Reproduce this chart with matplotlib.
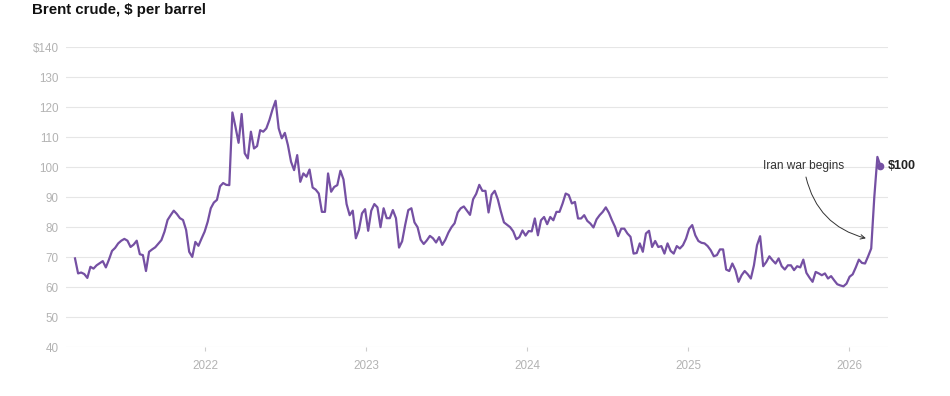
import matplotlib
matplotlib.use("Agg")
import matplotlib.pyplot as plt
import matplotlib.dates as mdates
import pandas as pd

plt.rcParams["font.family"] = ["Liberation Sans", "DejaVu Sans"]

# weekly Brent closes (Fridays)
start_week = "2021-03-12"
prices_2021 = [
    69.6, 64.6, 64.9, 64.4, 63.1, 66.8, 66.2, 67.3, 68.0, 68.7,
    66.6, 69.2, 72.1, 73.1, 74.6, 75.5, 76.1, 75.5, 73.4, 74.2,
    75.5, 71.0, 70.7, 65.4, 71.8, 72.6, 73.3, 74.5, 75.7, 78.5,
    82.4, 84.0, 85.5, 84.4, 83.0, 82.4, 79.1, 71.8, 70.1, 75.1,
    73.8, 76.2, 78.5,
]
prices_2022 = [
    81.8, 86.3, 88.2, 89.1, 93.6, 94.7, 94.1, 94.0, 118.2, 113.4,
    108.1, 117.7, 104.6, 102.9, 111.8, 106.2, 107.0, 112.3, 111.8, 112.9,
    115.7, 119.2, 122.1, 112.9, 109.6, 111.4, 107.3, 101.8, 99.0, 104.0,
    95.1, 97.9, 96.8, 99.2, 93.2, 92.5, 91.2, 85.1, 85.1, 97.9,
    91.8, 93.4, 94.0, 98.8, 95.9, 87.7, 84.0, 85.5, 76.3, 79.1,
    84.6, 86.0,
]
prices_2023 = [
    78.8, 85.5, 87.7, 86.6, 80.0, 86.3, 83.0, 83.0, 85.7, 83.0,
    73.2, 75.3, 80.8, 85.7, 86.3, 81.6, 80.0, 75.8, 74.4, 75.6,
    77.1, 76.3, 74.9, 76.7, 74.1, 75.8, 78.2, 80.0, 81.3, 84.9,
    86.3, 86.9, 85.5, 84.1, 89.3, 91.1, 94.1, 92.1, 92.1, 84.9,
    90.8, 92.1, 89.3, 85.2, 81.6, 80.8, 80.0, 78.6, 76.0, 76.7,
    78.9, 77.2,
]
prices_2024 = [
    78.7, 78.6, 82.9, 77.3, 82.3, 83.4, 81.0, 83.4, 82.3, 85.1,
    85.1, 87.9, 91.2, 90.7, 87.9, 88.4, 82.9, 82.9, 84.0, 82.1,
    81.2, 79.9, 82.6, 84.0, 85.1, 86.6, 84.8, 82.3, 80.1, 77.0,
    79.5, 79.5, 77.9, 76.8, 71.2, 71.4, 74.6, 71.8, 77.9, 78.8,
    73.4, 75.4, 73.4, 73.7, 71.2, 74.6, 72.1, 71.2, 73.7, 72.9,
    74.0, 76.2,
]
prices_2025 = [
    79.5, 80.7, 77.3, 75.4, 74.8, 74.6, 73.7, 72.3, 70.3, 70.7,
    72.6, 72.6, 65.9, 65.4, 67.9, 65.7, 61.8, 64.0, 65.4, 64.3,
    62.9, 67.3, 74.0, 77.0, 67.0, 68.4, 70.3, 69.0, 67.9, 69.6,
    67.0, 65.9, 67.3, 67.3, 65.7, 67.0, 66.6, 69.2, 64.8, 63.2,
    61.8, 65.1, 64.6, 64.0, 64.6, 62.9, 63.7, 62.3, 61.0, 60.6,
    60.3, 61.2,
]
prices_2026 = [63.5, 64.3, 66.6, 69.2, 68.1, 67.9, 70.3, 72.9, 90.0, 103.4, 100.3]

y_ticks = [40, 50, 60, 70, 80, 90, 100, 110, 120, 130, 140]
event_label = "Iran war begins"

PURPLE = "#7550a3"
GRID = "#e6e6e6"
MUTED = "#b3b3b3"

prices = prices_2021 + prices_2022 + prices_2023 + prices_2024 + prices_2025 + prices_2026
weeks = pd.date_range(start_week, periods=len(prices), freq="7D")

fig = plt.figure(figsize=(9.5, 3.96), dpi=100)
ax = fig.add_axes([0.0692, 0.123, 0.8655, 0.7583])

ax.plot(weeks, prices, color=PURPLE, lw=1.6, solid_joinstyle="round", zorder=3)
ax.plot(weeks[-1], prices[-1], "o", ms=4.5, color=PURPLE, zorder=4)
ax.annotate(f"${prices[-1]:.0f}", xy=(weeks[-1], prices[-1]), xytext=(5, 0),
            textcoords="offset points", ha="left", va="center",
            fontsize=9, fontweight="bold", color="#222222")

# event note with curved arrow
ax.text(pd.Timestamp("2025-09-20"), 100.3, event_label, ha="center", va="center",
        fontsize=8.6, color="#333333")
ax.annotate("", xy=(pd.Timestamp("2026-02-08"), 76.3),
            xytext=(pd.Timestamp("2025-09-25"), 96.7),
            arrowprops=dict(arrowstyle="->", color="#333333", lw=0.7,
                            connectionstyle="arc3,rad=0.3",
                            shrinkA=0, shrinkB=0, mutation_scale=8))

ax.set_ylim(40, 140)
ax.set_xlim(pd.Timestamp("2021-02-19"), pd.Timestamp("2026-03-30"))
ax.set_yticks(y_ticks)
ax.set_yticklabels([f"${v}" if v == y_ticks[-1] else str(v) for v in y_ticks])
ax.xaxis.set_major_locator(mdates.YearLocator())
ax.xaxis.set_major_formatter(mdates.DateFormatter("%Y"))

ax.yaxis.grid(True, color=GRID, lw=0.8)
ax.set_axisbelow(True)
for s in ax.spines.values():
    s.set_visible(False)
ax.tick_params(axis="y", length=0, pad=5, labelsize=8.4, labelcolor=MUTED)
ax.tick_params(axis="x", length=3.2, width=0.8, color="#cccccc", pad=6,
               labelsize=8.4, labelcolor=MUTED)

fig.text(32 / 950, 1 - 10 / 396, "Brent crude, $ per barrel", ha="left", va="center",
         fontsize=10.8, fontweight="bold", color="#111111")

fig.savefig("out.png", dpi=100)
